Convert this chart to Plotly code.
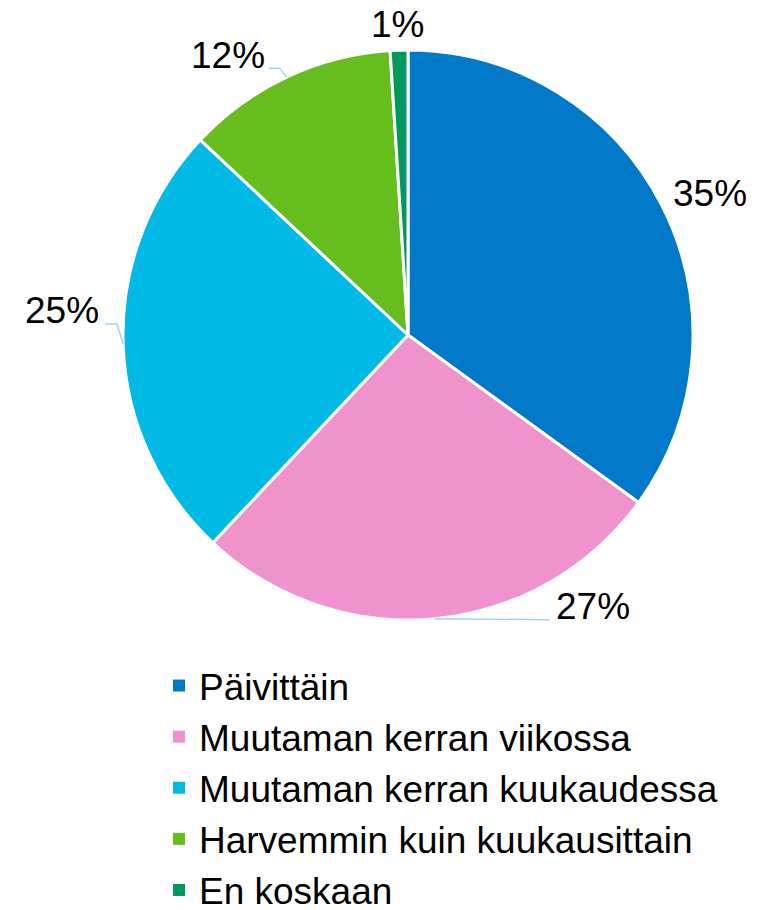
import math
import plotly.graph_objects as go

# ---------------- data ----------------
categories = [
    "Päivittäin",
    "Muutaman kerran viikossa",
    "Muutaman kerran kuukaudessa",
    "Harvemmin kuin kuukausittain",
    "En koskaan",
]
values = [35, 27, 25, 12, 1]
label_texts = ["35%", "27%", "25%", "12%", "1%"]

# ---------------- style ----------------
colors = ["#0179c8", "#f092cd", "#00b9e4", "#66bd1e", "#00985c"]
leader_color = "#9fd4f4"
FONT = "Liberation Sans, Arial, sans-serif"
PAGE_OFF = 8                         # default body margin of the html page
W, H = 760 - PAGE_OFF, 910 - PAGE_OFF
CX, CY, R = 408, 335, 285            # pie centre / radius (page px)
# label centre offset from the slice's outer edge point (px; +x right, +y down)
label_offsets = [(48, -12), (158, -12), (-61, -33), (-59, -22), (-2, -26)]
# leader: None, or (start dx, start dy, elbow dx, elbow dy) relative to label centre
leaders = [None, (-43, 13, None, None), (43, 13, 55, 13), (41, 13, 52, 13), None]
LEGEND_LEFT, LEGEND_TOP = 159, 655   # page px


def px_to_paper(x, y):
    return (x - PAGE_OFF) / W, 1 - (y - PAGE_OFF) / H


fig = go.Figure()
x0, y1 = px_to_paper(CX - R, CY - R)
x1, y0 = px_to_paper(CX + R, CY + R)
fig.add_trace(go.Pie(
    labels=categories,
    values=values,
    sort=False,
    direction="clockwise",
    rotation=0,
    marker=dict(colors=colors, line=dict(color="white", width=3)),
    textinfo="none",
    hoverinfo="label+percent",
    showlegend=False,
    domain=dict(x=[x0, x1], y=[y0, y1]),
))

# legend entries (square swatches)
for name, col in zip(categories, colors):
    fig.add_trace(go.Scatter(
        x=[None], y=[None], mode="markers", name=name,
        marker=dict(symbol="square", size=12, color=col, line=dict(width=0)),
        showlegend=True, hoverinfo="skip",
    ))

total = sum(values)
cum = 0
annotations = []
shapes = []
for i, v in enumerate(values):
    mid = 90 - (cum + v / 2) / total * 360
    cum += v
    ex = CX + R * math.cos(math.radians(mid))
    ey = CY - R * math.sin(math.radians(mid))
    lx = ex + label_offsets[i][0]
    ly = ey + label_offsets[i][1]
    px, py = px_to_paper(lx, ly)
    annotations.append(dict(
        x=px, y=py, xref="paper", yref="paper", text=label_texts[i],
        showarrow=False, xanchor="center", yanchor="middle",
        font=dict(family=FONT, size=37, color="black"),
    ))
    ld = leaders[i]
    if ld is not None:
        pts = [(lx + ld[0], ly + ld[1])]
        if ld[2] is not None:
            pts.append((lx + ld[2], ly + ld[3]))
        pts.append((ex, ey))
        path = "M " + " L ".join(
            f"{px_to_paper(a, b)[0]:.5f},{px_to_paper(a, b)[1]:.5f}" for a, b in pts)
        shapes.append(dict(type="path", xref="paper", yref="paper", path=path,
                           line=dict(color=leader_color, width=1.5)))

lx_, ly_ = px_to_paper(LEGEND_LEFT, LEGEND_TOP)
fig.update_layout(
    width=W, height=H,
    margin=dict(l=0, r=0, t=0, b=0, autoexpand=False),
    paper_bgcolor="white", plot_bgcolor="white",
    xaxis=dict(visible=False), yaxis=dict(visible=False),
    showlegend=True,
    legend=dict(
        x=lx_, y=ly_, xanchor="left", yanchor="top",
        font=dict(family=FONT, size=37, color="black"),
        bgcolor="rgba(0,0,0,0)", borderwidth=0,
        orientation="v", itemclick=False, itemdoubleclick=False,
        maxheight=320,
    ),
    annotations=annotations,
    shapes=shapes,
)

fig.write_html("out.html")
